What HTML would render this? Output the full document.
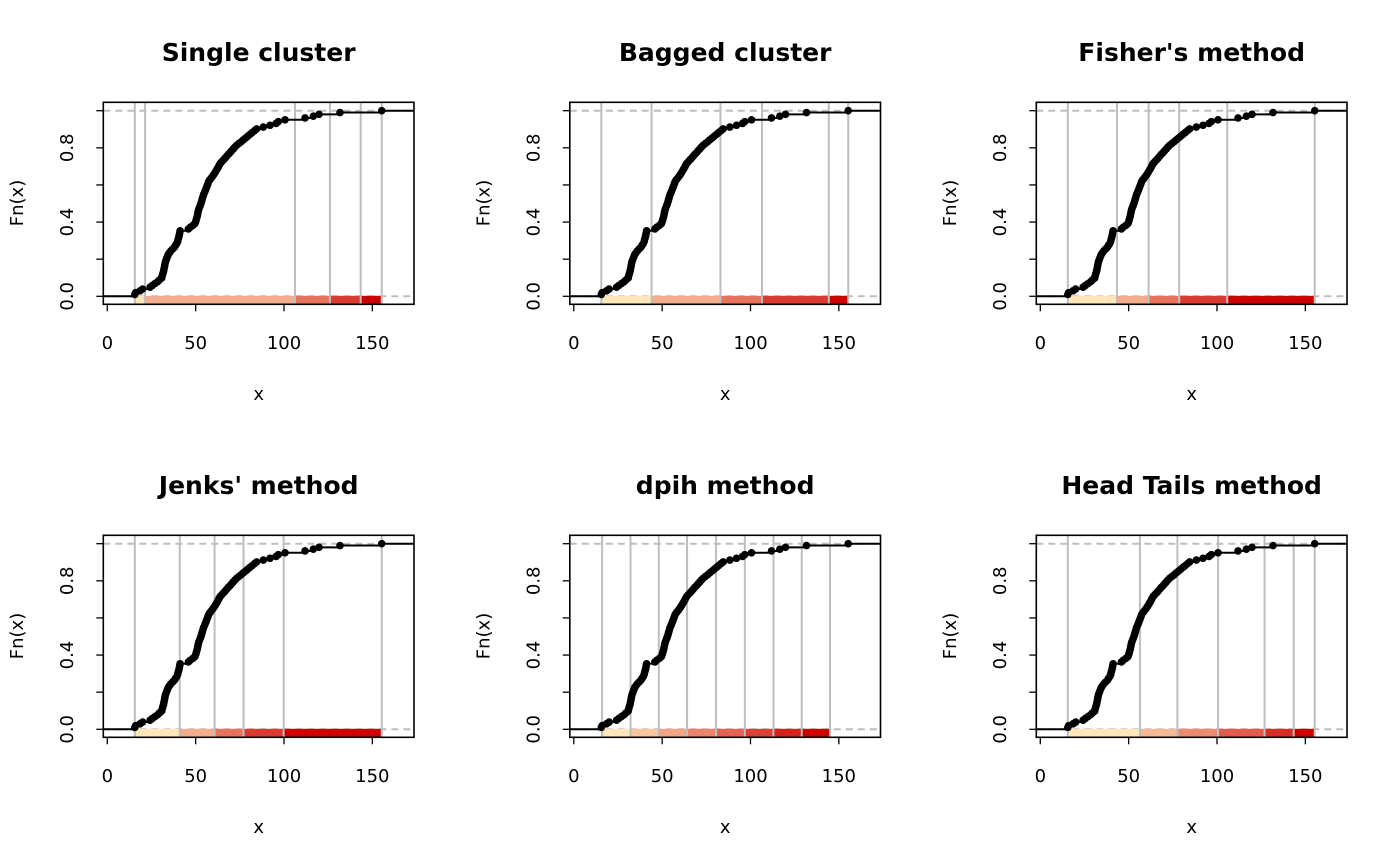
<!DOCTYPE html>
<html><head><meta charset="utf-8"><style>
body{margin:0;background:#fff;}
svg{display:block;font-family:"DejaVu Sans","Liberation Sans",sans-serif;}
</style></head><body>
<svg id="chart" width="1400" height="866" viewBox="0 0 1400 866"></svg>
<script>
// Data: sorted observations (n = 102)
const values = [15.57,16.0,18.5,20,24.2,25.5,27,28.5,29.5,30.8,
31.0,31.3,31.6,31.9,32.1,32.3,32.5,32.7,32.9,
33.3,33.7,34.1,34.5,35.2,
36,37,38,38.6,39.3,39.8,
40.0,40.3,40.6,40.8,41.0,41.2,
45.9,47,48.5,49.6,
50.0,50.3,50.6,50.9,51.1,51.3,51.5,51.8,
52.2,52.6,53,53.3,53.6,53.9,54.2,54.5,
55,55.4,55.8,56.2,56.6,57,57.3,
58,58.8,59.6,60.3,61,
61.6,62.2,62.8,63.3,63.9,
64.8,65.8,66.7,67.6,68.5,
69.5,70.4,71.3,72.2,73.2,
74.5,75.8,77,78.3,79.5,80.8,82,83.3,84.5,
88.3,92.1,95.5,96.8,100.6,111.9,116.6,119.8,131.7,155.3];
const titles = ["Single cluster","Bagged cluster","Fisher's method","Jenks' method","dpih method","Head Tails method"];
const breaksSingle = [15.57,21.4,106.2,126,143.4,155.3];
const breaksBagged = [15.57,44,83,106.5,144.3,155.3];
const breaksFisher = [15.57,43.4,61.3,78.6,105.8,155.3];
const breaksJenks = [15.57,41,60.7,77.1,99.8,155.3];
const breaksDpih = [16,32.1,48.1,64.1,80.5,96.8,113,129,145];
const breaksHeadTails = [15.57,56.4,77.6,100.6,126.9,143.4,155.3];
const allBreaks = [breaksSingle,breaksBagged,breaksFisher,breaksJenks,breaksDpih,breaksHeadTails];
const xTicks = [0,50,100,150];
const yTicks = [0,0.2,0.4,0.6,0.8,1.0];
const yTickLabels = {"0":"0.0","0.4":"0.4","0.8":"0.8"};

const NS="http://www.w3.org/2000/svg";
const svg=document.getElementById('chart');
function mk(tag,attrs,parent){const e=document.createElementNS(NS,tag);for(const k in attrs)e.setAttribute(k,attrs[k]);(parent||svg).appendChild(e);return e;}
function lerpColor(t){const a=[255,231,186],b=[205,0,0];return 'rgb('+a.map((v,i)=>Math.round(v+(b[i]-v)*t)).join(',')+')';}

titles.forEach((title,p)=>{
  const ox=(p%3)*466.5, oy=Math.floor(p/3)*433;
  const sx=v=>ox+107.3+v*1.767;
  const sy=v=>oy+296.3-v*185.6;
  const L=ox+103.3,R=ox+414,T=oy+102.3,B=oy+304.3;
  const g=mk('g',{});
  
  
  const t=mk('text',{x:(L+R)/2,y:oy+61,'text-anchor':'middle','font-size':25,'font-weight':'bold',fill:'#000'},g);
  t.textContent=title;
  
  
  [0,1].forEach(v=>{
    const l=mk('line',{x1:L,x2:R,y1:sy(v),y2:sy(v),stroke:'#bebebe','stroke-width':2,'stroke-dasharray':'7,5'},g);
    
    
  });
  const br=allBreaks[p], nc=br.length-1;
  for(let i=0;i<nc;i++){
    const r=mk('rect',{x:sx(br[i]),y:sy(0)-0.5,width:sx(br[i+1])-sx(br[i]),height:B-sy(0),fill:lerpColor(nc>1?i/(nc-1):0)},g);
    
    
  }
  br.forEach(b=>{
    const l=mk('line',{x1:sx(b),x2:sx(b),y1:T,y2:B,stroke:'#bebebe','stroke-width':2},g);
    
    
  });
  const n=values.length;
  let d='M'+L+' '+sy(0)+'H'+sx(values[0]);
  for(let i=0;i<n-1;i++){d+='M'+sx(values[i])+' '+sy((i+1)/n)+'H'+sx(values[i+1]);}
  d+='M'+sx(values[n-1])+' '+sy(1)+'H'+R;
  const st=mk('path',{d:d,stroke:'#000','stroke-width':2,fill:'none'},g);
  
  
  values.forEach((v,i)=>{
    const c=mk('circle',{cx:sx(v),cy:sy((i+1)/n),r:3.8,fill:'#000'},g);
    
    
  });
  const bx=mk('rect',{x:L,y:T,width:R-L,height:B-T,fill:'none',stroke:'#000','stroke-width':1.6},g);
  
  
  xTicks.forEach(v=>{
    const tk=mk('line',{x1:sx(v),x2:sx(v),y1:B,y2:B+7,stroke:'#000','stroke-width':1.3},g);
    
    
    const tl=mk('text',{x:sx(v),y:oy+349,'text-anchor':'middle','font-size':18,fill:'#000'},g);
    tl.textContent=String(v);
    
    
  });
  const xl=mk('text',{x:(L+R)/2,y:oy+400,'text-anchor':'middle','font-size':18,fill:'#000'},g);
  xl.textContent='x';
  
  
  yTicks.forEach(v=>{
    const tk=mk('line',{x1:L-7,x2:L,y1:sy(v),y2:sy(v),stroke:'#000','stroke-width':1.3},g);
    
    
    const key=String(Math.round(v*10)/10);
    if(yTickLabels[key]){
      const tl=mk('text',{x:0,y:0,'text-anchor':'middle','font-size':18,fill:'#000',transform:'translate('+(ox+73)+','+sy(v)+') rotate(-90)'},g);
      tl.textContent=yTickLabels[key];
      
      
    }
  });
  const yl=mk('text',{x:0,y:0,'text-anchor':'middle','font-size':18,fill:'#000',transform:'translate('+(ox+23)+','+(oy+203)+') rotate(-90)'},g);
  yl.textContent='Fn(x)';
  
  
});
</script>
</body></html>
